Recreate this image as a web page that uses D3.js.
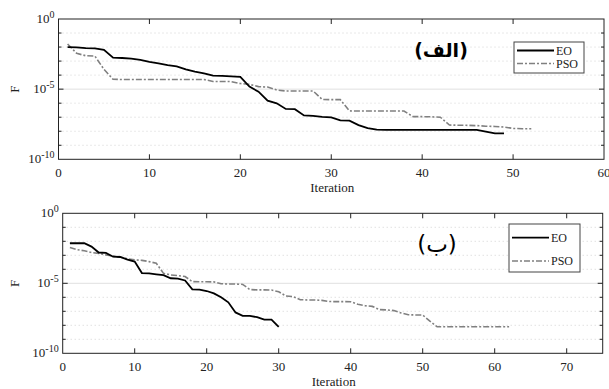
<!DOCTYPE html>
<html>
<head>
<meta charset="utf-8">
<script src="https://cdn.jsdelivr.net/npm/d3@7"></script>
<style>
  body { margin: 0; background: #fff; }
  svg { display: block; }
  svg text { font-family: "Liberation Serif", "Times New Roman", "DejaVu Serif", serif; }
</style>
</head>
<body>
<svg id="chart" width="609" height="389"></svg>
<script>
// values are log10(F), index = iteration (starting at 1)
const eoTopLog = [-2.0, -2.02, -2.08, -2.1, -2.2, -2.76, -2.78, -2.83, -2.92, -3.06,
  -3.16, -3.28, -3.37, -3.59, -3.75, -3.87, -4.04, -4.06, -4.09, -4.13,
  -4.82, -5.18, -5.82, -6.01, -6.41, -6.43, -6.87, -6.91, -6.98, -7.01,
  -7.22, -7.24, -7.56, -7.77, -7.89, -7.9, -7.9, -7.9, -7.9, -7.9,
  -7.9, -7.9, -7.9, -7.9, -7.9, -7.9, -8.03, -8.15, -8.15];
const psoTopLog = [-1.78, -2.45, -2.62, -2.64, -3.59, -4.3, -4.31, -4.31, -4.31, -4.31,
  -4.31, -4.31, -4.31, -4.31, -4.31, -4.31, -4.45, -4.45, -4.46, -4.6,
  -4.66, -4.82, -4.85, -5.06, -5.13, -5.13, -5.13, -5.13, -5.73, -5.75,
  -5.75, -6.55, -6.56, -6.56, -6.56, -6.56, -6.56, -6.56, -6.96, -6.96,
  -6.97, -7.0, -7.56, -7.57, -7.58, -7.6, -7.64, -7.66, -7.7, -7.8,
  -7.82, -7.82];
const eoBotLog = [-2.14, -2.14, -2.14, -2.38, -2.8, -2.83, -3.1, -3.12, -3.31, -3.45,
  -4.27, -4.29, -4.36, -4.42, -4.64, -4.67, -4.8, -5.43, -5.45, -5.55,
  -5.72, -6.0, -6.36, -7.08, -7.32, -7.33, -7.42, -7.6, -7.6, -8.12];
const psoBotLog = [-2.45, -2.6, -2.68, -2.8, -2.86, -2.97, -3.06, -3.14, -3.25, -3.32,
  -3.36, -3.45, -3.57, -4.29, -4.4, -4.45, -4.52, -4.88, -4.89, -4.89,
  -4.9, -5.03, -5.05, -5.05, -5.08, -5.45, -5.47, -5.47, -5.48, -5.6,
  -5.91, -5.95, -6.17, -6.19, -6.19, -6.22, -6.3, -6.31, -6.31, -6.32,
  -6.5, -6.6, -6.65, -6.88, -6.9, -6.95, -7.12, -7.25, -7.26, -7.27,
  -7.7, -8.1, -8.1, -8.1, -8.1, -8.1, -8.1, -8.1, -8.1, -8.1,
  -8.1, -8.1];

const seriesNames = ["EO", "PSO"];
const xTicksTop = [0, 10, 20, 30, 40, 50, 60];
const xTicksBot = [0, 10, 20, 30, 40, 50, 60, 70];
const yMajorExp = [0, -5, -10];
const titles = ["(الف)", "(ب)"];

const svg = d3.select("#chart");

function drawPanel(opt) {
  let x = d3.scaleLinear().domain(opt.xDomain).range([opt.left, opt.right]);
  let y = d3.scaleLog().domain([1e-10, 1]).range([opt.bottom, opt.top]);
  let g = svg.append("g");

  // minor grid (every decade) dotted, major grid at 1e-5 solid
  let decades = d3.range(-9, 0);
  g.selectAll(".minor")
    .data(decades.filter(d => d !== -5))
    .enter().append("line")
    .attr("x1", opt.left).attr("x2", opt.right)
    .attr("y1", d => y(Math.pow(10, d))).attr("y2", d => y(Math.pow(10, d)))
    .attr("stroke", "#c8c8c8").attr("stroke-width", 0.8)
    .attr("stroke-dasharray", "1,3");
  g.append("line")
    .attr("x1", opt.left).attr("x2", opt.right)
    .attr("y1", y(1e-5)).attr("y2", y(1e-5))
    .attr("stroke", "#e0e0e0").attr("stroke-width", 1);

  // lines
  let line = d3.line()
    .x((d, i) => x(i + 1))
    .y(d => y(Math.pow(10, d)));
  g.append("path").datum(opt.pso)
    .attr("d", line).attr("fill", "none")
    .attr("stroke", "#808080").attr("stroke-width", 1.6)
    .attr("stroke-dasharray", "6,2,2,2");
  g.append("path").datum(opt.eo)
    .attr("d", line).attr("fill", "none")
    .attr("stroke", "#000").attr("stroke-width", 1.8);

  // box
  g.append("rect")
    .attr("x", opt.left).attr("y", opt.top)
    .attr("width", opt.right - opt.left).attr("height", opt.bottom - opt.top)
    .attr("fill", "none").attr("stroke", "#222").attr("stroke-width", 1);

  // x ticks (inside, top and bottom)
  opt.xTicks.forEach(t => {
    if (t !== opt.xDomain[0] && t !== opt.xDomain[1]) {
      g.append("line").attr("x1", x(t)).attr("x2", x(t))
        .attr("y1", opt.bottom).attr("y2", opt.bottom - 5).attr("stroke", "#222");
      g.append("line").attr("x1", x(t)).attr("x2", x(t))
        .attr("y1", opt.top).attr("y2", opt.top + 5).attr("stroke", "#222");
    }
    g.append("text").attr("x", x(t)).attr("y", opt.bottom + 18)
      .attr("text-anchor", "middle").attr("fill", "#222")
      .style("font-size", "13px").text(t);
  });

  // y minor ticks each decade, both sides
  decades.forEach(d => {
    let yy = y(Math.pow(10, d));
    let len = d === -5 ? 5 : 3;
    g.append("line").attr("x1", opt.left).attr("x2", opt.left + len)
      .attr("y1", yy).attr("y2", yy).attr("stroke", "#222");
    g.append("line").attr("x1", opt.right).attr("x2", opt.right - len)
      .attr("y1", yy).attr("y2", yy).attr("stroke", "#222");
  });

  // y tick labels 10^n
  yMajorExp.forEach(e => {
    let t = g.append("text").attr("x", opt.left - 4).attr("y", y(Math.pow(10, e)) + 4)
      .attr("text-anchor", "end").attr("fill", "#222")
      .style("font-size", "13px");
    t.append("tspan").text("10");
    t.append("tspan").attr("dy", -5).style("font-size", "10px").text(e);
  });

  // axis labels
  g.append("text").attr("x", (opt.left + opt.right) / 2 + 1).attr("y", opt.xLabelY)
    .attr("text-anchor", "middle").attr("fill", "#222")
    .style("font-size", "13px").text("Iteration");
  g.append("text")
    .attr("transform", "translate(" + 19 + "," + y(1e-5) + ") rotate(-90)")
    .attr("text-anchor", "middle").attr("fill", "#222")
    .style("font-size", "13px").text("F");

  // panel title (Arabic)
  g.append("text").attr("x", opt.titleX).attr("y", opt.titleY)
    .attr("text-anchor", "middle")
    .style("direction", "rtl").style("unicode-bidi", "embed")
    .style("font-family", "'DejaVu Sans', sans-serif")
    .style("font-weight", opt.titleWeight).style("font-size", opt.titleSize)
    .text(opt.title);

  // legend
  let lg = opt.legend;
  g.append("rect").attr("x", lg.x).attr("y", lg.y).attr("width", lg.w).attr("height", lg.h)
    .attr("fill", "#fff").attr("stroke", "#444").attr("stroke-width", 1);
  seriesNames.forEach((name, i) => {
    let yy = lg.rows[i];
    g.append("line").attr("x1", lg.x + 3).attr("x2", lg.x + 40)
      .attr("y1", yy).attr("y2", yy)
      .attr("stroke", i === 0 ? "#000" : "#808080")
      .attr("stroke-width", i === 0 ? 1.8 : 1.6)
      .attr("stroke-dasharray", i === 0 ? null : "6,2,2,2");
    g.append("text").attr("x", lg.x + 42).attr("y", yy + 4).attr("fill", "#222")
      .style("font-size", "12px").text(name);
  });
}

drawPanel({
  left: 58.5, right: 604, top: 19, bottom: 159.3,
  xDomain: [0, 60], xTicks: xTicksTop,
  eo: eoTopLog, pso: psoTopLog,
  xLabelY: 192, title: titles[0], titleX: 441, titleY: 57,
  titleWeight: "bold", titleSize: "19px",
  legend: { x: 514, y: 42, w: 70, h: 31, rows: [50.5, 63.5] }
});

drawPanel({
  left: 62.7, right: 602.7, top: 213.3, bottom: 353.3,
  xDomain: [0, 75], xTicks: xTicksBot,
  eo: eoBotLog, pso: psoBotLog,
  xLabelY: 386, title: titles[1], titleX: 437, titleY: 252,
  titleWeight: "normal", titleSize: "23px",
  legend: { x: 509, y: 224, w: 71, h: 48, rows: [237.7, 261] }
});
</script>
</body>
</html>
